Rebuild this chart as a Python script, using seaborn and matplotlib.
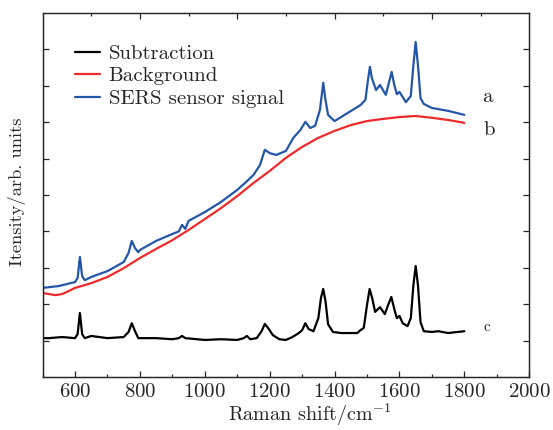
import numpy as np
import pandas as pd
import matplotlib
matplotlib.use("Agg")
import matplotlib.pyplot as plt
from matplotlib.patches import Arc
from matplotlib.ticker import MultipleLocator, NullFormatter
import seaborn as sns

# ---- data (Raman shift in cm^-1, intensity in arb. units) ----
sub_x = [500, 520, 560, 600, 608, 615, 622, 630, 650, 700, 750, 765, 775, 785, 795,
         850, 900, 920, 930, 940, 1000, 1050, 1100, 1120, 1130, 1140, 1160, 1175, 1185,
         1195, 1210, 1230, 1250, 1270, 1290, 1300, 1310, 1320, 1335, 1350, 1358, 1365,
         1372, 1380, 1395, 1420, 1450, 1470, 1480, 1490, 1500, 1508, 1516, 1525, 1540,
         1555, 1565, 1575, 1585, 1592, 1600, 1610, 1625, 1635, 1643, 1650, 1657, 1665,
         1675, 1700, 1720, 1750, 1780, 1800]
sub_y = [1.07, 1.07, 1.10, 1.07, 1.18, 1.76, 1.18, 1.07, 1.13, 1.07, 1.10, 1.24, 1.48,
         1.26, 1.07, 1.07, 1.04, 1.07, 1.13, 1.07, 1.02, 1.04, 1.02, 1.07, 1.13, 1.04,
         1.07, 1.26, 1.46, 1.35, 1.15, 1.04, 1.02, 1.10, 1.21, 1.29, 1.48, 1.32, 1.26,
         1.62, 2.17, 2.42, 2.09, 1.45, 1.24, 1.21, 1.21, 1.21, 1.29, 1.35, 1.98, 2.42,
         2.17, 1.79, 1.92, 1.73, 1.98, 2.20, 1.84, 1.62, 1.68, 1.48, 1.40, 1.62, 2.53,
         3.05, 2.53, 1.51, 1.26, 1.24, 1.26, 1.21, 1.24, 1.26]

bg_x = [500, 520, 540, 560, 580, 600, 620, 650, 700, 750, 800, 850, 900, 950, 1000,
        1050, 1100, 1150, 1200, 1250, 1300, 1350, 1400, 1450, 1500, 1550, 1600, 1650,
        1700, 1750, 1800]
bg_y = [2.31, 2.28, 2.25, 2.28, 2.36, 2.45, 2.50, 2.58, 2.75, 2.99, 3.27, 3.52, 3.76,
        4.04, 4.34, 4.64, 4.97, 5.33, 5.66, 6.02, 6.32, 6.57, 6.76, 6.92, 7.03, 7.09,
        7.14, 7.17, 7.12, 7.06, 6.98]

sig_x = [500, 550, 600, 608, 615, 622, 630, 650, 700, 750, 765, 775, 785, 795, 800, 850,
         900, 920, 930, 940, 950, 1000, 1050, 1100, 1130, 1150, 1170, 1185, 1200, 1220,
         1250, 1273, 1295, 1310, 1325, 1340, 1355, 1365, 1372, 1380, 1400, 1440, 1480,
         1495, 1503, 1509, 1515, 1528, 1540, 1558, 1568, 1576, 1584, 1592, 1600, 1620,
         1635, 1643, 1650, 1657, 1665, 1675, 1700, 1750, 1800]
sig_y = [2.45, 2.50, 2.61, 2.72, 3.30, 2.77, 2.66, 2.75, 2.91, 3.16, 3.41, 3.74, 3.54,
         3.43, 3.49, 3.74, 3.93, 4.00, 4.18, 4.07, 4.29, 4.53, 4.81, 5.14, 5.38, 5.55,
         5.82, 6.24, 6.15, 6.10, 6.21, 6.57, 6.79, 7.01, 6.84, 6.90, 7.34, 8.08, 7.61,
         7.20, 7.03, 7.25, 7.47, 7.61, 8.16, 8.52, 8.21, 7.88, 8.02, 7.75, 8.10, 8.38,
         8.02, 7.77, 7.83, 7.55, 7.72, 8.57, 9.20, 8.57, 7.66, 7.50, 7.39, 7.31, 7.20]

labels = ["Subtraction", "Background", "SERS sensor signal"]
colors = ["#000000", "#ee2a2a", "#2456a8"]

FS = 15

# ---- styling ----
sns.set_style("ticks")
plt.rcParams["font.family"] = ["cmr10", "DejaVu Serif"]
plt.rcParams["mathtext.fontset"] = "cm"
plt.rcParams["axes.formatter.use_mathtext"] = True
plt.rcParams["axes.unicode_minus"] = False

fig = plt.figure(figsize=(5.53, 4.30), dpi=100)
ax = fig.add_axes([0.077, 0.123, 0.880, 0.847])

frames = [
    pd.DataFrame({"shift": sub_x, "intensity": sub_y, "series": labels[0]}),
    pd.DataFrame({"shift": bg_x, "intensity": bg_y, "series": labels[1]}),
    pd.DataFrame({"shift": sig_x, "intensity": sig_y, "series": labels[2]}),
]
for df, lab, col in zip(frames, labels, colors):
    sns.lineplot(data=df, x="shift", y="intensity", ax=ax, color=col, lw=1.6,
                 label=lab, estimator=None, sort=False)

ax.set_xlim(500, 2000)
ax.set_ylim(0, 10)
ax.xaxis.set_major_locator(MultipleLocator(200))
ax.xaxis.set_minor_locator(MultipleLocator(100))
ax.set_yticks(np.arange(1, 10))
ax.yaxis.set_major_formatter(NullFormatter())
ax.tick_params(axis="both", which="major", direction="in", length=4, width=0.9,
               labelsize=FS, right=True)
ax.tick_params(axis="x", which="minor", direction="in", length=2.5, width=0.9)
ax.tick_params(axis="x", labelsize=FS, pad=4)
for s in ax.spines.values():
    s.set_linewidth(1.0)

top = ax.twiny()
top.set_xlim(500, 2000)
top.set_xticks([800, 1100, 1400, 1700])
top.set_xticks([650, 950, 1250, 1550, 1850], minor=True)
top.xaxis.set_major_formatter(NullFormatter())
top.tick_params(axis="x", which="major", direction="in", length=4, width=0.9)
top.tick_params(axis="x", which="minor", direction="in", length=2.5, width=0.9)

ax.set_xlabel("Raman shift/cm$^{-1}$", fontsize=14.5)
ax.xaxis.set_label_coords(0.55, -0.068)
ax.set_ylabel("Itensity/arb. units", fontsize=13.3)
ax.yaxis.set_label_coords(-0.034, 0.51)

leg = ax.legend(loc="upper left", bbox_to_anchor=(0.067, 0.914), frameon=False,
                fontsize=FS, handlelength=1.2, handletextpad=0.4,
                labelspacing=0.19, borderaxespad=0, borderpad=0)

ax.text(1855, 7.69, "a", fontsize=FS, ha="left", va="center")
ax.text(1858, 6.79, "b", fontsize=FS, ha="left", va="center")
ax.text(1860, 1.37, "c", fontsize=11, ha="left", va="center")

# small arc marking the 615 cm^-1 band
ax.add_patch(Arc((615, 3.37), 56, 0.41, theta1=195, theta2=345, color="black",
                 lw=1.2, zorder=5))

fig.savefig("out.png", dpi=100)
